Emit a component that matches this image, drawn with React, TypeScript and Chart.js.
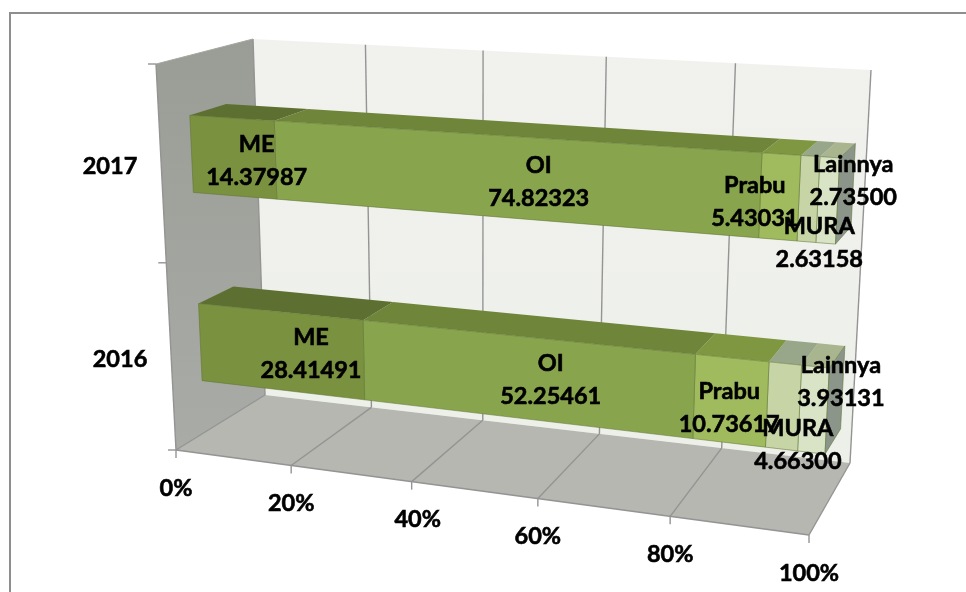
import React, { useEffect, useRef } from "react";
import { Chart, registerables } from "chart.js";

Chart.register(...registerables);

const years = ["2017", "2016"];
const meValues = [14.37987, 28.41491];
const oiValues = [74.82323, 52.25461];
const prabuValues = [5.43031, 10.73617];
const muraValues = [2.63158, 4.663];
const lainnyaValues = [2.735, 3.93131];

const series = [
  { label: "ME", data: meValues, front: "#7a9140", top: "#5e7031", nudge: [[7, 10], [15, 11.5]] },
  { label: "OI", data: oiValues, front: "#88a54d", top: "#6f853a", nudge: [[19, 12], [15, 12]] },
  { label: "Prabu", data: prabuValues, front: "#a0bb5d", top: "#7e9740", nudge: [[-33, 13], [-10, 18]] },
  { label: "MURA", data: muraValues, front: "#c7d5a6", top: "#98a78a", nudge: [[3, 52], [6.5, 50]] },
  { label: "Lainnya", data: lainnyaValues, front: "#d9e3c6", top: "#a8b58f", nudge: [[18, -12], [20, -16]] },
];
const tickNudgeX = [0, 0, 6, 0, 0, 0];

// Corners of the perspective box, in page pixels.
const FB0 = [176, 450], FB1 = [809, 535], FT0 = [156, 64], FT1 = [830, 102];
const BB0 = [265, 395], BB1 = [850, 463], BT0 = [253, 39], BT1 = [871, 70];
const BAR_NEAR = 0.32, BAR_FAR = 0.7, V_SHIFT = -0.01, PERSPECTIVE = 1.124;
const FONT = 'bold 23.5px Lato';

const lerp = (a: number, b: number, t: number) => a + (b - a) * t;
const warp = (u: number) => (u <= 0 ? 0 : u / (u + PERSPECTIVE * (1 - u)));

function project(u: number, v: number, w: number): [number, number] {
  const f = warp(u);
  const out: number[] = [0, 0];
  for (let i = 0; i < 2; i++) {
    const front = lerp(lerp(FB0[i], FB1[i], f), lerp(FT0[i], FT1[i], f), v);
    const back = lerp(lerp(BB0[i], BB1[i], f), lerp(BT0[i], BT1[i], f), v);
    out[i] = lerp(front, back, w);
  }
  return [out[0], out[1]];
}

function poly(ctx: CanvasRenderingContext2D, pts: [number, number][], fill: string | CanvasGradient, stroke?: string) {
  ctx.beginPath();
  pts.forEach((p, i) => (i ? ctx.lineTo(p[0], p[1]) : ctx.moveTo(p[0], p[1])));
  ctx.closePath();
  ctx.fillStyle = fill;
  ctx.fill();
  if (stroke) {
    ctx.strokeStyle = stroke;
    ctx.lineWidth = 1;
    ctx.stroke();
  }
}

function line(ctx: CanvasRenderingContext2D, a: number[], b: number[], color: string, width = 1.4) {
  ctx.beginPath();
  ctx.moveTo(a[0], a[1]);
  ctx.lineTo(b[0], b[1]);
  ctx.strokeStyle = color;
  ctx.lineWidth = width;
  ctx.stroke();
}

function boldText(ctx: CanvasRenderingContext2D, text: string, x: number, y: number) {
  ctx.strokeText(text, x, y);
  ctx.fillText(text, x, y);
}

const boxPlugin = {
  id: "box3d",
  beforeDatasetsDraw(chart: any) {
    const { ctx, scales, chartArea } = chart;
    const x = scales.x;
    const y = scales.y;
    const toU = (val: number) => (x.getPixelForValue(val) - chartArea.left) / chartArea.width;
    const toV = (py: number) => (chartArea.bottom - py) / chartArea.height;
    ctx.save();
    const wall = ctx.createLinearGradient(0, 39, 0, 463);
    wall.addColorStop(0, "#f1f2ee");
    wall.addColorStop(1, "#edefe9");
    poly(ctx, [project(0, 0, 1), project(1, 0, 1), project(1, 1, 1), project(0, 1, 1)], wall);
    const left = ctx.createLinearGradient(0, 40, 0, 450);
    left.addColorStop(0, "#9a9c96");
    left.addColorStop(1, "#a9aba6");
    poly(ctx, [project(0, 0, 0), project(0, 0, 1), project(0, 1, 1), project(0, 1, 0)], left);
    poly(ctx, [project(0, 0, 0), project(1, 0, 0), project(1, 0, 1), project(0, 0, 1)], "#b5b7b0");
    const grid = "#949494";
    for (const t of x.ticks) {
      const u = toU(t.value);
      line(ctx, project(u, 0, 0), project(u, 0, 1), grid);
      line(ctx, project(u, 0, 1), project(u, 1, 1), grid);
      const p = project(u, 0, 0);
      line(ctx, p, [p[0], p[1] + 8], grid);
    }
    line(ctx, project(0, 0, 0), project(1, 0, 0), grid);
    line(ctx, project(0, 1, 0), project(0, 0, 0), grid);
    line(ctx, project(0, 1, 0), project(0, 1, 1), "#a4a6a1", 1);
    const band = y.getPixelForValue(0) - y.getPixelForValue(1);
    const first = toV(y.getPixelForValue(0) + band / 2);
    [first, first - 0.515, first - 1].forEach((v) => {
      const p = project(0, v, 0);
      line(ctx, p, [p[0] - 8, p[1]], grid);
    });
    ctx.restore();
  },
  beforeDatasetDraw(chart: any, args: any) {
    const { ctx, chartArea, data } = chart;
    const meta = chart.getDatasetMeta(args.index);
    const ds: any = data.datasets[args.index];
    const last = args.index === data.datasets.length - 1;
    ctx.save();
    for (const el of meta.data) {
      const b = el.getProps(["x", "y", "base", "height"], true);
      const u0 = (b.base - chartArea.left) / chartArea.width;
      const u1 = (b.x - chartArea.left) / chartArea.width;
      const v1 = (chartArea.bottom - (b.y - b.height / 2)) / chartArea.height + V_SHIFT;
      const v0 = (chartArea.bottom - (b.y + b.height / 2)) / chartArea.height + V_SHIFT;
      const edge = "rgba(96,116,52,0.55)";
      poly(ctx, [project(u0, v1, BAR_NEAR), project(u1, v1, BAR_NEAR), project(u1, v1, BAR_FAR), project(u0, v1, BAR_FAR)], ds.topColor);
      poly(ctx, [project(u0, v0, BAR_NEAR), project(u1, v0, BAR_NEAR), project(u1, v1, BAR_NEAR), project(u0, v1, BAR_NEAR)], ds.backgroundColor, edge);
      if (last) {
        poly(ctx, [project(1, v0, BAR_NEAR), project(1, v0, BAR_FAR), project(1, v1, BAR_FAR), project(1, v1, BAR_NEAR)], "#8b958a", edge);
      }
    }
    ctx.restore();
    return false;
  },
  afterDatasetsDraw(chart: any) {
    const { ctx, scales, chartArea, data } = chart;
    const x = scales.x;
    const y = scales.y;
    ctx.save();
    ctx.font = FONT;
    ctx.fillStyle = "#000";
    ctx.strokeStyle = "#000";
    ctx.lineWidth = 0.6;
    ctx.textAlign = "center";
    ctx.textBaseline = "middle";
    x.ticks.forEach((t: any, i: number) => {
      const u = (x.getPixelForValue(t.value) - chartArea.left) / chartArea.width;
      const p = project(u, 0, 0);
      boldText(ctx, t.label, p[0] + tickNudgeX[i], p[1] + 38);
    });
    y.ticks.forEach((t: any, i: number) => {
      const v = (chartArea.bottom - y.getPixelForValue(i)) / chartArea.height;
      const p = project(0, v, 0);
      boldText(ctx, y.getLabelForValue(t.value), p[0] - 51, p[1] + 6);
    });
    data.datasets.forEach((ds: any, di: number) => {
      chart.getDatasetMeta(di).data.forEach((el: any, i: number) => {
        const b = el.getProps(["x", "y", "base"], true);
        const u = ((b.base + b.x) / 2 - chartArea.left) / chartArea.width;
        const v = (chartArea.bottom - b.y) / chartArea.height + V_SHIFT;
        const p = project(u, v, 0.5);
        const n = ds.nudge[i];
        const cx = p[0] + n[0];
        const cy = p[1] + n[1];
        boldText(ctx, ds.label, cx, cy - 16.5);
        boldText(ctx, ds.data[i].toFixed(5), cx, cy + 16.5);
      });
    });
    ctx.restore();
  },
};

export default function App() {
  const ref = useRef<HTMLCanvasElement>(null);
  useEffect(() => {
    const chart = new Chart(ref.current as HTMLCanvasElement, {
      type: "bar",
      data: {
        labels: years,
        datasets: series.map((s) => ({
          label: s.label,
          data: s.data,
          backgroundColor: s.front,
          topColor: s.top,
          nudge: s.nudge,
          barPercentage: 0.41,
          categoryPercentage: 1,
        })) as any,
      },
      options: {
        indexAxis: "y",
        responsive: false,
        animation: false,
        devicePixelRatio: 1,
        layout: { padding: 0 },
        plugins: { legend: { display: false }, tooltip: { enabled: false } },
        scales: {
          x: {
            display: false,
            stacked: true,
            min: 0,
            max: 100,
            ticks: { stepSize: 20, callback: (v: any) => v + "%" },
          },
          y: { display: false, stacked: true },
        },
      },
      plugins: [boxPlugin],
    });
    return () => chart.destroy();
  }, []);
  return (
    <div style={{ position: "fixed", left: 0, top: 0, width: 966, height: 592, background: "#fff" }}>
      <div style={{ position: "absolute", left: 9, top: 12, right: 0, bottom: 0, borderLeft: "2px solid #8e8e8e", borderTop: "2px solid #8e8e8e" }} />
      <canvas ref={ref} width={966} height={592} style={{ position: "absolute", left: 0, top: 0 }} />
    </div>
  );
}
